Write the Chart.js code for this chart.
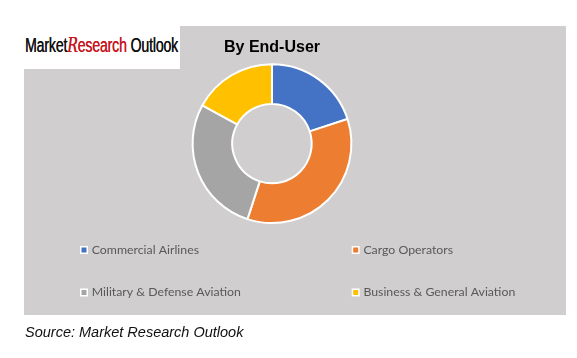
<!DOCTYPE html>
<html>
<head>
<meta charset="utf-8">
<script src="https://cdn.jsdelivr.net/npm/chart.js@4/dist/chart.umd.min.js"></script>
<style>
  html, body { margin: 0; padding: 0; background: #ffffff; }
  body { width: 577px; height: 358px; position: relative; overflow: hidden; }
  #panel { position: absolute; left: 24px; top: 26px; width: 542px; height: 289px; background: #D0CECE; }
  #logo { position: absolute; left: 0; top: 0; width: 180px; height: 69px; background: #ffffff; }
  #logoText { position: absolute; left: 25px; top: 35.3px; font-family: "Liberation Sans Narrow", "Liberation Sans", sans-serif; font-size: 20px; line-height: 20px; white-space: nowrap; color: #111; transform-origin: 0 0; letter-spacing: -0.2px; text-shadow: 0.3px 0 0 currentColor; }
  #logoText .r { color: #C8161D; }
  #logoText .rs { font-family: "DejaVu Serif", serif; font-style: italic; }
  #chart { position: absolute; left: 0; top: 0; }
  #source { position: absolute; left: 25px; top: 325px; font-family: "Liberation Sans", Arial, sans-serif; font-style: italic; font-size: 14.5px; line-height: 14.5px; color: #111; white-space: nowrap; }
</style>
</head>
<body>
<div id="panel"></div>
<div id="logo"><span id="logoText">Market<span class="r"><span class="rs">R</span>esearch</span> Outlook</span></div>
<canvas id="chart" width="544" height="358"></canvas>
<div id="source">Source: Market Research Outlook</div>
<script>
// ---- data ----
const categories = ["Commercial Airlines", "Cargo Operators", "Military & Defense Aviation", "Business & General Aviation"];
const shares = [20, 35, 28, 17];
const colors = ["#4472C4", "#ED7D31", "#A5A5A5", "#FFC000"];
const chartTitle = "By End-User";

// fit logo text width
(function () {
  const el = document.getElementById('logoText');
  const w = el.getBoundingClientRect().width;
  if (w > 0) el.style.transform = 'scaleX(' + (153 / w) + ')';
})();

const gridLegend = {
  id: 'gridLegend',
  afterDraw(chart) {
    const ctx = chart.ctx;
    const cols = [80, 351.7];
    const rows = [250, 292.5];
    const ds = chart.data.datasets[0];
    ctx.save();
    chart.data.labels.forEach((lab, i) => {
      const x = cols[i % 2];
      const y = rows[Math.floor(i / 2)];
      ctx.fillStyle = '#ffffff';
      ctx.fillRect(x, y - 4, 8, 8);
      ctx.fillStyle = ds.backgroundColor[i];
      ctx.fillRect(x + 1.5, y - 2.5, 5, 5);
      ctx.font = '12.3px Lato, "Open Sans", sans-serif';
      ctx.fillStyle = '#595959';
      ctx.textBaseline = 'middle';
      ctx.textAlign = 'left';
      ctx.fillText(lab, x + 11.7, y);
    });
    ctx.restore();
  }
};

new Chart(document.getElementById('chart'), {
  type: 'doughnut',
  data: {
    labels: categories,
    datasets: [{
      data: shares,
      backgroundColor: colors,
      borderColor: '#ffffff',
      borderWidth: 2
    }]
  },
  options: {
    responsive: false,
    animation: false,
    cutout: '50%',
    layout: { padding: { bottom: 134 } },
    plugins: {
      legend: { display: false },
      tooltip: { enabled: false },
      title: {
        display: true,
        text: chartTitle,
        color: '#000000',
        font: { family: '"Liberation Sans", Arial, sans-serif', size: 16, weight: 'bold' },
        padding: { top: 38, bottom: 6 }
      }
    }
  },
  plugins: [gridLegend]
});
</script>
</body>
</html>
